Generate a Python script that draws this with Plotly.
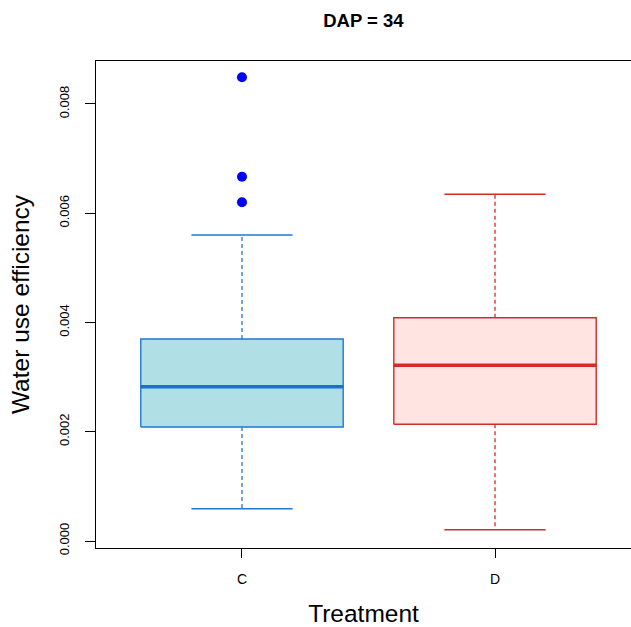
import plotly.graph_objects as go

categories = ["C", "D"]
q1 = [0.002087, 0.002136]
median = [0.002825, 0.003216]
q3 = [0.003698, 0.004088]
lower = [0.000591, 0.000207]
upper = [0.005602, 0.006347]
outliers_C = [0.008489, 0.006669, 0.006200]
y_ticks = [0.000, 0.002, 0.004, 0.006, 0.008]
y_tick_labels = ["0.000", "0.002", "0.004", "0.006", "0.008"]

fills = ["#B0DFE5", "#FFE4E1"]
edges = ["#2277D0", "#D42A2A"]
medcols = ["#1C6FCB", "#D42A2A"]

fig = go.Figure()
hw = 0.4
cw = 0.2
for i, cat in enumerate(categories):
    xc = i + 1
    # whiskers (dashed)
    fig.add_trace(go.Scatter(x=[xc, xc], y=[q3[i], upper[i]], mode="lines",
                             line=dict(color=edges[i], width=1.3, dash="4px,3px"), hoverinfo="skip"))
    fig.add_trace(go.Scatter(x=[xc, xc], y=[q1[i], lower[i]], mode="lines",
                             line=dict(color=edges[i], width=1.3, dash="4px,3px"), hoverinfo="skip"))
    # caps
    fig.add_trace(go.Scatter(x=[xc - cw, xc + cw], y=[upper[i], upper[i]], mode="lines",
                             line=dict(color=edges[i], width=1.4), hoverinfo="skip"))
    fig.add_trace(go.Scatter(x=[xc - cw, xc + cw], y=[lower[i], lower[i]], mode="lines",
                             line=dict(color=edges[i], width=1.4), hoverinfo="skip"))
    # box
    fig.add_trace(go.Scatter(x=[xc - hw, xc + hw, xc + hw, xc - hw, xc - hw],
                             y=[q1[i], q1[i], q3[i], q3[i], q1[i]],
                             mode="lines", fill="toself", fillcolor=fills[i],
                             line=dict(color=edges[i], width=1.4), hoverinfo="skip"))
    # median
    fig.add_trace(go.Scatter(x=[xc - hw, xc + hw], y=[median[i], median[i]], mode="lines",
                             line=dict(color=medcols[i], width=3.5), hoverinfo="skip"))

fig.add_trace(go.Scatter(x=[1] * len(outliers_C), y=outliers_C, mode="markers",
                         marker=dict(color="#0000FF", size=10), hoverinfo="skip"))

font_family = "Liberation Sans, Arial, sans-serif"
fig.update_layout(
    width=631, height=627,
    margin=dict(l=96, r=0, t=61, b=79),
    paper_bgcolor="white", plot_bgcolor="white",
    showlegend=False,
    font=dict(family=font_family, color="black"),
    title=dict(text="<b>DAP = 34</b>", x=0.5759, xanchor="center", y=0.968, yanchor="middle",
               font=dict(size=18.5, family=font_family, color="black")),
    xaxis=dict(range=[0.423, 2.5375], tickvals=[1, 2], ticktext=categories,
               showline=True, mirror=True, linecolor="black", linewidth=1.2,
               ticks="outside", ticklen=9, tickcolor="black", tickwidth=1.2,
               ticklabelstandoff=9,
               showgrid=False, zeroline=False, tickfont=dict(size=14),
               title=dict(text="Treatment", font=dict(size=24.5), standoff=21)),
    yaxis=dict(range=[-0.000128, 0.008787], tickvals=y_ticks, ticktext=y_tick_labels,
               tickangle=-90, showline=True, mirror=False, linecolor="black", linewidth=1.2,
               ticks="outside", ticklen=10, tickcolor="black", tickwidth=1.2,
               ticklabelstandoff=11,
               showgrid=False, zeroline=False, tickfont=dict(size=13),
               title=dict(text="Water use efficiency", font=dict(size=24.5), standoff=20)),
)

fig.write_html("out.html", config={"displayModeBar": False},
               post_script="document.body.style.margin='0';document.body.style.overflow='hidden';")
